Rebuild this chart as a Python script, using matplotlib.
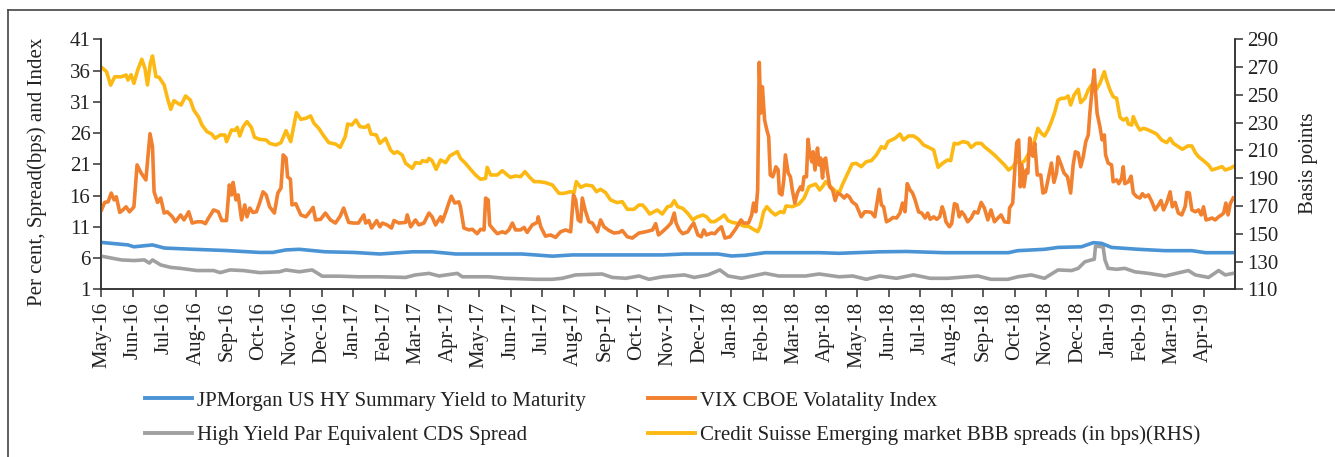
import matplotlib
matplotlib.use("Agg")
import matplotlib.pyplot as plt
from matplotlib.lines import Line2D

plt.rcParams['font.family'] = ['Liberation Serif', 'DejaVu Serif']

months = ["May-16", "Jun-16", "Jul-16", "Aug-16", "Sep-16", "Oct-16", "Nov-16", "Dec-16",
          "Jan-17", "Feb-17", "Mar-17", "Apr-17", "May-17", "Jun-17", "Jul-17", "Aug-17",
          "Sep-17", "Oct-17", "Nov-17", "Dec-17", "Jan-18", "Feb-18", "Mar-18", "Apr-18",
          "May-18", "Jun-18", "Jul-18", "Aug-18", "Sep-18", "Oct-18", "Nov-18", "Dec-18",
          "Jan-19", "Feb-19", "Mar-19", "Apr-19"]

# (time in months since May-16, value)
hy_yield = [(0, 8.5), (0.84, 8.1), (1.03, 7.8), (1.62, 8.1), (2.0, 7.6), (2.93, 7.4), (3.97, 7.2),
            (5.02, 6.9), (5.44, 6.9), (5.86, 7.3), (6.28, 7.4), (7.11, 7.0), (8.0, 6.9), (8.84, 6.65),
            (9.87, 7.0), (10.5, 7.0), (11.25, 6.65), (12.3, 6.65), (13.36, 6.65), (14.32, 6.3),
            (14.96, 6.5), (16.0, 6.5), (17.81, 6.5), (18.51, 6.65), (19.58, 6.65), (20.01, 6.33),
            (20.44, 6.44), (21.08, 6.86), (22.79, 6.86), (23.43, 6.76), (24.72, 7.0), (25.57, 7.05),
            (26.75, 6.86), (27.4, 6.86), (28.8, 6.86), (29.1, 7.18), (29.95, 7.4), (30.38, 7.7),
            (31.12, 7.8), (31.5, 8.46), (31.76, 8.35), (32.08, 7.7), (32.93, 7.4), (33.78, 7.18),
            (34.63, 7.18), (35.06, 6.86), (35.94, 6.86)]

cds_spread = [(0, 6.3), (0.31, 6.0), (0.63, 5.7), (1.03, 5.6), (1.36, 5.7), (1.52, 5.2), (1.62, 5.7),
              (1.88, 4.9), (2.2, 4.5), (2.51, 4.35), (3.03, 4.0), (3.56, 4.0), (3.77, 3.67), (4.08, 4.1),
              (4.5, 4.0), (5.02, 3.67), (5.65, 3.8), (5.86, 4.1), (6.28, 3.8), (6.69, 4.1), (7.01, 3.1),
              (7.53, 3.1), (8.16, 3.0), (8.84, 3.0), (9.66, 2.9), (9.97, 3.3), (10.4, 3.55), (10.72, 3.13),
              (11.3, 3.55), (11.46, 3.0), (12.3, 3.0), (12.83, 2.76), (13.79, 2.6), (14.32, 2.6),
              (14.63, 2.76), (15.06, 3.3), (15.9, 3.45), (16.22, 2.9), (16.65, 2.76), (17.07, 3.13),
              (17.39, 2.6), (17.81, 3.0), (18.51, 3.3), (18.83, 2.9), (19.26, 3.3), (19.64, 4.1),
              (19.9, 3.13), (20.33, 2.76), (21.08, 3.55), (21.51, 3.13), (22.36, 3.13), (22.79, 3.45),
              (23.43, 3.0), (23.86, 3.13), (24.29, 2.6), (24.72, 3.13), (25.25, 2.76), (25.79, 3.3),
              (26.32, 2.76), (26.87, 2.76), (27.83, 3.13), (28.25, 2.6), (28.79, 2.6), (29.1, 3.0),
              (29.53, 3.3), (29.95, 2.76), (30.38, 4.1), (30.81, 4.0), (31.02, 4.35), (31.23, 5.4),
              (31.44, 5.7), (31.53, 5.8), (31.57, 7.9), (31.81, 7.8), (31.87, 5.7), (31.97, 4.35),
              (32.24, 4.2), (32.5, 4.35), (32.82, 3.8), (33.25, 3.55), (33.78, 3.13), (34.52, 4.0),
              (34.74, 3.3), (35.16, 2.9), (35.48, 4.0), (35.69, 3.3), (35.94, 3.55)]

vix = [(0, 13.7), (0.1, 14.9), (0.21, 15.0), (0.31, 16.4), (0.4, 15.3), (0.47, 15.8), (0.58, 13.3),
       (0.68, 13.7), (0.78, 14.2), (0.89, 13.4), (1.03, 14.2), (1.13, 20.9), (1.26, 19.6), (1.41, 18.5),
       (1.46, 21.3), (1.54, 25.9), (1.62, 23.8), (1.67, 16.6), (1.78, 14.9), (1.88, 15.6), (1.99, 13.2),
       (2.09, 13.4), (2.25, 12.6), (2.35, 11.8), (2.51, 12.9), (2.62, 12.1), (2.77, 13.4), (2.88, 11.6),
       (3.03, 11.8), (3.19, 11.8), (3.3, 11.5), (3.4, 12.4), (3.56, 13.7), (3.71, 13.4), (3.82, 12.0),
       (3.97, 12.0), (4.06, 17.7), (4.13, 16.1), (4.18, 18.1), (4.27, 15.3), (4.34, 16.1), (4.45, 12.1),
       (4.55, 14.5), (4.62, 12.6), (4.71, 14.0), (4.81, 13.3), (4.92, 13.4), (5.02, 14.8), (5.13, 16.6),
       (5.23, 16.1), (5.34, 14.2), (5.49, 13.2), (5.6, 16.4), (5.7, 17.2), (5.77, 22.5), (5.86, 22.0),
       (5.91, 19.0), (6.0, 18.6), (6.05, 14.5), (6.17, 14.7), (6.33, 12.9), (6.49, 12.6), (6.59, 13.2),
       (6.72, 14.1), (6.8, 12.1), (6.96, 12.2), (7.11, 13.2), (7.27, 12.1), (7.43, 11.6), (7.58, 12.7),
       (7.69, 14.0), (7.85, 11.7), (8.0, 11.6), (8.16, 11.6), (8.33, 12.9), (8.39, 11.6), (8.49, 12.0),
       (8.58, 10.8), (8.74, 12.0), (8.84, 11.0), (8.92, 11.6), (9.07, 11.3), (9.21, 10.8), (9.29, 12.0),
       (9.44, 11.6), (9.66, 11.7), (9.71, 12.9), (9.82, 11.0), (9.97, 12.1), (10.08, 11.3), (10.24, 11.6),
       (10.4, 13.2), (10.5, 12.6), (10.61, 11.3), (10.77, 12.6), (10.82, 11.8), (10.93, 13.3),
       (11.03, 14.8), (11.11, 15.9), (11.22, 14.8), (11.35, 15.0), (11.4, 14.2), (11.51, 10.8),
       (11.67, 10.5), (11.78, 10.6), (11.93, 9.9), (12.04, 10.6), (12.15, 10.5), (12.2, 15.6),
       (12.28, 15.3), (12.33, 11.3), (12.46, 10.5), (12.57, 9.9), (12.73, 10.2), (12.83, 10.0),
       (12.94, 10.5), (13.05, 11.6), (13.15, 10.5), (13.31, 10.5), (13.42, 10.9), (13.52, 10.1),
       (13.68, 11.3), (13.84, 11.7), (13.87, 12.6), (13.95, 11.0), (14.1, 9.5), (14.26, 9.7),
       (14.42, 9.3), (14.58, 10.2), (14.74, 10.5), (14.9, 10.2), (14.99, 16.1), (15.06, 15.3),
       (15.14, 12.1), (15.22, 11.8), (15.27, 15.6), (15.36, 13.7), (15.48, 11.8), (15.59, 11.6),
       (15.75, 10.2), (15.85, 12.1), (15.96, 11.0), (16.12, 10.4), (16.28, 10.0), (16.44, 10.1),
       (16.54, 10.4), (16.7, 9.4), (16.86, 9.2), (17.07, 10.0), (17.28, 10.2), (17.5, 10.5),
       (17.6, 11.5), (17.69, 9.7), (17.81, 10.2), (17.98, 11.0), (18.09, 11.6), (18.19, 13.2),
       (18.25, 11.6), (18.35, 10.5), (18.46, 9.9), (18.62, 10.2), (18.73, 11.1), (18.81, 11.6),
       (18.94, 9.7), (19.05, 9.4), (19.13, 10.5), (19.21, 9.7), (19.37, 10.0), (19.48, 9.9),
       (19.58, 10.5), (19.69, 11.0), (19.8, 9.2), (19.96, 9.4), (20.12, 10.5), (20.22, 11.3),
       (20.31, 12.1), (20.39, 11.6), (20.55, 11.6), (20.65, 12.9), (20.71, 14.8), (20.78, 13.4),
       (20.84, 16.9), (20.89, 37.3), (20.94, 29.2), (20.99, 33.4), (21.06, 28.1), (21.13, 26.5),
       (21.19, 25.4), (21.24, 19.3), (21.32, 19.0), (21.42, 20.6), (21.49, 20.1), (21.53, 16.4),
       (21.61, 16.1), (21.67, 18.5), (21.72, 22.5), (21.81, 19.6), (21.88, 19.0), (21.94, 16.9),
       (22.02, 14.8), (22.1, 16.4), (22.2, 17.4), (22.26, 16.9), (22.31, 19.0), (22.39, 19.0),
       (22.44, 25.0), (22.49, 22.8), (22.56, 21.4), (22.6, 23.0), (22.66, 20.1), (22.74, 23.6),
       (22.79, 20.9), (22.84, 22.0), (22.9, 18.8), (22.95, 21.7), (23.0, 22.0), (23.06, 19.6),
       (23.13, 17.4), (23.22, 16.9), (23.3, 15.2), (23.38, 16.4), (23.49, 16.1), (23.59, 15.6),
       (23.67, 16.1), (23.75, 15.8), (23.84, 15.0), (23.97, 14.5), (24.13, 12.6), (24.24, 13.4),
       (24.34, 13.4), (24.45, 13.3), (24.56, 12.6), (24.63, 14.8), (24.7, 17.0), (24.77, 14.5),
       (24.84, 14.2), (24.93, 11.8), (25.04, 12.1), (25.14, 12.5), (25.25, 12.4), (25.36, 13.2),
       (25.44, 14.8), (25.52, 13.4), (25.59, 17.9), (25.68, 16.9), (25.76, 16.4), (25.84, 15.3),
       (25.95, 13.4), (26.05, 13.2), (26.16, 12.4), (26.24, 13.2), (26.32, 12.2), (26.43, 12.6),
       (26.53, 12.2), (26.62, 12.6), (26.7, 14.2), (26.76, 13.3), (26.82, 11.8), (26.93, 11.0),
       (27.0, 11.5), (27.09, 14.7), (27.17, 14.5), (27.24, 12.6), (27.32, 13.4), (27.4, 12.9),
       (27.51, 11.8), (27.62, 12.4), (27.72, 13.4), (27.83, 13.2), (27.94, 14.9), (28.04, 14.0),
       (28.15, 12.1), (28.25, 13.7), (28.36, 11.8), (28.47, 12.4), (28.57, 12.9), (28.68, 11.8),
       (28.81, 11.7), (28.84, 14.0), (28.94, 14.8), (29.02, 21.2), (29.07, 24.5), (29.13, 24.9),
       (29.18, 17.4), (29.23, 20.9), (29.3, 17.4), (29.37, 20.1), (29.42, 19.6), (29.48, 25.2),
       (29.53, 22.8), (29.58, 22.3), (29.64, 24.4), (29.72, 19.3), (29.83, 19.3), (29.9, 16.4),
       (29.98, 16.6), (30.06, 18.5), (30.17, 21.2), (30.25, 18.1), (30.33, 19.6), (30.38, 22.2),
       (30.46, 21.2), (30.57, 19.6), (30.68, 19.0), (30.78, 16.4), (30.86, 20.9), (30.93, 23.0),
       (31.02, 22.8), (31.1, 20.6), (31.18, 22.2), (31.26, 24.6), (31.34, 25.7), (31.39, 29.2),
       (31.46, 32.9), (31.53, 36.1), (31.57, 32.6), (31.62, 29.2), (31.71, 27.0), (31.78, 24.9),
       (31.85, 25.7), (31.89, 22.5), (31.97, 21.2), (32.08, 20.9), (32.13, 18.2), (32.24, 18.5),
       (32.31, 17.9), (32.4, 18.8), (32.45, 20.6), (32.5, 17.9), (32.61, 18.2), (32.7, 19.1),
       (32.77, 16.4), (32.88, 15.8), (32.98, 15.6), (33.06, 16.3), (33.14, 15.8), (33.25, 16.1),
       (33.36, 15.0), (33.46, 13.7), (33.57, 14.5), (33.65, 15.2), (33.73, 13.7), (33.83, 14.8),
       (33.94, 16.6), (34.01, 14.2), (34.1, 14.9), (34.2, 13.2), (34.31, 12.9), (34.42, 14.3),
       (34.47, 16.5), (34.55, 16.4), (34.63, 13.7), (34.74, 13.4), (34.84, 13.7), (34.93, 12.9),
       (35.0, 14.2), (35.08, 12.1), (35.16, 12.2), (35.27, 12.4), (35.37, 12.1), (35.48, 12.6),
       (35.57, 12.9), (35.64, 13.2), (35.71, 14.8), (35.78, 12.9), (35.85, 14.7), (35.94, 15.6)]

em_bbb_bps = [(0, 269.8), (0.16, 266.7), (0.29, 257), (0.42, 263), (0.63, 263), (0.78, 264.3),
              (0.84, 260.7), (0.94, 264.5), (1.03, 258.3), (1.15, 267.9), (1.28, 275.6), (1.38, 269.1),
              (1.46, 257.1), (1.55, 272.7), (1.62, 278), (1.73, 263.1), (1.83, 262.6), (1.99, 257.1),
              (2.11, 246.3), (2.2, 239.6), (2.3, 245.8), (2.46, 243.4), (2.53, 242.7), (2.67, 249.2),
              (2.82, 246.3), (2.93, 239.1), (3.09, 233.8), (3.19, 228.3), (3.35, 223.5), (3.5, 221.8),
              (3.61, 218.7), (3.77, 221.1), (3.92, 221.1), (3.97, 216.3), (4.13, 224.7), (4.24, 224.5),
              (4.31, 226.6), (4.39, 220.4), (4.5, 227.1), (4.62, 230.7), (4.76, 226.6), (4.86, 219.4),
              (5.02, 218), (5.23, 217.5), (5.34, 215.1), (5.54, 213.9), (5.7, 215.6), (5.86, 224.2),
              (6.01, 216.3), (6.19, 237.2), (6.33, 232.4), (6.49, 233.1), (6.64, 234.8), (6.75, 229.5),
              (6.9, 225.9), (7.06, 220.4), (7.22, 215.6), (7.43, 214.6), (7.58, 212.2), (7.74, 219.9),
              (7.82, 229), (7.95, 228.3), (8.08, 231.9), (8.21, 227.1), (8.37, 226.6), (8.47, 228.3),
              (8.56, 221.8), (8.73, 221.1), (8.84, 215.1), (9.02, 218.7), (9.18, 210.3), (9.29, 207.9),
              (9.39, 209.1), (9.55, 206.7), (9.66, 200.7), (9.87, 197.1), (9.97, 201.2), (10.13, 200.7),
              (10.19, 202.6), (10.34, 201.9), (10.4, 204.3), (10.5, 202.6), (10.63, 196.4),
              (10.77, 203.1), (10.93, 201.2), (11.06, 206), (11.25, 208.4), (11.3, 209.1), (11.4, 204.3),
              (11.56, 200.7), (11.72, 196.4), (11.88, 192.3), (12.04, 189.2), (12.2, 189.9),
              (12.25, 197.8), (12.36, 192.3), (12.57, 192.3), (12.73, 195.4), (12.89, 192.3),
              (12.99, 190.6), (13.15, 191.6), (13.31, 191.1), (13.45, 194.7), (13.58, 191.1),
              (13.74, 187.5), (13.89, 187.5), (14.1, 186.8), (14.32, 185.1), (14.53, 179.1),
              (14.69, 179.1), (14.9, 180.3), (15.01, 179.6), (15.08, 187.5), (15.22, 183.4),
              (15.38, 185.1), (15.59, 184.4), (15.72, 180.3), (15.85, 182), (16.01, 179.6),
              (16.17, 174.3), (16.38, 172.4), (16.54, 173.1), (16.7, 167.6), (16.91, 167.6),
              (17.07, 170.7), (17.18, 170.7), (17.28, 168.3), (17.41, 164.2), (17.55, 165.9),
              (17.65, 167.1), (17.81, 164.2), (17.98, 169.5), (18.09, 170), (18.19, 173.8), (18.3, 169.5),
              (18.46, 168.3), (18.62, 164.7), (18.78, 159.9), (18.89, 161.8), (19.1, 163.5),
              (19.21, 162.3), (19.35, 158.7), (19.47, 158.7), (19.64, 161.1), (19.78, 163.5),
              (19.9, 159.4), (20.06, 158), (20.22, 157.5), (20.39, 155.6), (20.57, 155.1), (20.7, 153.2),
              (20.84, 151.5), (20.92, 155.1), (21.03, 165.9), (21.13, 169.5), (21.27, 165.9),
              (21.4, 163.5), (21.56, 165.9), (21.67, 165.2), (21.74, 170), (21.94, 169.5), (22.15, 171.4),
              (22.31, 175.5), (22.47, 183.9), (22.68, 185.8), (22.81, 181.5), (22.9, 183.9), (23.0, 187.5),
              (23.16, 183.9), (23.3, 181), (23.43, 179.6), (23.54, 185.8), (23.7, 193.5), (23.84, 200.2),
              (23.97, 200.7), (24.13, 198.3), (24.29, 201.9), (24.45, 202.6), (24.61, 206.7),
              (24.77, 212.7), (24.88, 211.5), (24.98, 216.3), (25.2, 218.7), (25.36, 221.8),
              (25.47, 217.5), (25.63, 220.4), (25.79, 220.4), (25.95, 218), (26.11, 213.9),
              (26.27, 212.2), (26.43, 210.3), (26.57, 197.8), (26.71, 200.7), (26.87, 203.1),
              (26.97, 202.6), (27.08, 215.1), (27.19, 214.6), (27.35, 216.3), (27.51, 215.6),
              (27.62, 212.2), (27.78, 215.1), (27.94, 215.1), (28.04, 212.7), (28.2, 209.8),
              (28.36, 206.7), (28.52, 203.1), (28.68, 199.5), (28.81, 195.9), (28.95, 198.3),
              (29.05, 201.9), (29.21, 200.7), (29.32, 202.6), (29.42, 206.7), (29.53, 210.8),
              (29.64, 217.5), (29.74, 225.9), (29.85, 222.3), (29.95, 220.4), (30.06, 224.7),
              (30.17, 230.7), (30.27, 237.2), (30.38, 246.3), (30.49, 247.5), (30.59, 247.5),
              (30.7, 249.2), (30.78, 242.7), (30.89, 249.9), (31.02, 254), (31.1, 244.4), (31.23, 247.5),
              (31.34, 253.5), (31.44, 257.1), (31.6, 254), (31.71, 258.3), (31.85, 266.7), (31.92, 260.7),
              (32.03, 253.5), (32.13, 248.7), (32.24, 247.5), (32.35, 233.8), (32.45, 231.9),
              (32.56, 233.1), (32.61, 229), (32.72, 228.3), (32.77, 234.3), (32.88, 228.3),
              (32.98, 224.7), (33.09, 225.9), (33.2, 225.2), (33.36, 223.5), (33.51, 221.8),
              (33.67, 217.5), (33.83, 215.6), (33.94, 218.7), (34.04, 215.1), (34.2, 212.7),
              (34.33, 210.8), (34.5, 213.2), (34.63, 213.2), (34.74, 208.4), (34.84, 205.5),
              (35.0, 202.6), (35.16, 199.5), (35.27, 195.9), (35.43, 197.1), (35.59, 198.3),
              (35.69, 195.9), (35.85, 197.1), (35.94, 198.3)]

left_ticks = [1, 6, 11, 16, 21, 26, 31, 36, 41]
right_ticks = [110, 130, 150, 170, 190, 210, 230, 250, 270, 290]

C_BLUE = '#4a94d6'
C_ORANGE = '#f1802f'
C_GRAY = '#a0a0a0'
C_YELLOW = '#fdb913'
AX_COL = '#333333'
FS = 15
LW = 2.6

W, H = 1335, 457
fig = plt.figure(figsize=(W / 100, H / 100), dpi=100)
x0, x1, y0, y1 = 101.5, 1235, 39.3, 289.3
ax = fig.add_axes([x0 / W, 1 - y1 / H, (x1 - x0) / W, (y1 - y0) / H])
ax2 = ax.twinx()
ax.set_zorder(2)
ax2.set_zorder(1)
ax.patch.set_visible(False)


def xy(pairs):
    return [p[0] for p in pairs], [p[1] for p in pairs]


l_em, = ax2.plot(*xy(em_bbb_bps), color=C_YELLOW, lw=LW, solid_joinstyle='round',
                 label='Credit Suisse Emerging market BBB spreads (in bps)(RHS)')
l_cds, = ax.plot(*xy(cds_spread), color=C_GRAY, lw=LW, solid_joinstyle='round',
                 label='High Yield Par Equivalent CDS Spread')
l_hy, = ax.plot(*xy(hy_yield), color=C_BLUE, lw=LW, solid_joinstyle='round',
                label='JPMorgan US HY Summary Yield to Maturity')
l_vix, = ax.plot(*xy(vix), color=C_ORANGE, lw=LW, solid_joinstyle='round',
                 label='VIX CBOE Volatality Index')

ax.set_xlim(0, 36)
ax.set_ylim(1, 41)
ax2.set_ylim(110, 290)
ax.set_yticks(left_ticks)
ax2.set_yticks(right_ticks)
ax.set_xticks(range(len(months)))
ax.set_xticklabels(months, rotation=90, fontsize=FS, color='#222222')
ax.tick_params(axis='x', direction='out', length=6, width=1.1, color=AX_COL, pad=3)
ax.tick_params(axis='y', direction='out', length=6, width=1.1, color=AX_COL, pad=2,
               labelsize=FS, labelcolor='#222222')
ax2.tick_params(axis='y', direction='out', length=6, width=1.1, color=AX_COL, pad=3,
                labelsize=FS, labelcolor='#222222')

for a in (ax, ax2):
    a.spines['top'].set_visible(False)
    for s in ('left', 'right', 'bottom'):
        a.spines[s].set_color(AX_COL)
        a.spines[s].set_linewidth(1.1)

fig.text(37 / W, 1 - 172 / H, 'Per cent, Spread(bps) and Index', rotation=90,
         ha='center', va='center', fontsize=FS, color='#222222')
fig.text(1308 / W, 1 - 163 / H, 'Basis points', rotation=90,
         ha='center', va='center', fontsize=FS, color='#222222')

leg_kw = dict(frameon=False, fontsize=FS, handlelength=2.26, handletextpad=0.25,
              labelspacing=0.72, borderpad=0, borderaxespad=0, loc='upper left')
lg1 = fig.legend(handles=[l_hy, l_cds], bbox_to_anchor=(145 / W, 1 - 391 / H), **leg_kw)
lg2 = fig.legend(handles=[l_vix, l_em], bbox_to_anchor=(648 / W, 1 - 391 / H), **leg_kw)
for lg in (lg1, lg2):
    for t in lg.get_texts():
        t.set_color('#222222')
    for h in lg.legend_handles:
        h.set_linewidth(2.8)

# outer frame
fig.add_artist(Line2D([7.5 / W, 7.5 / W], [0, 1 - 10 / H], transform=fig.transFigure,
                      color='#444444', lw=1.2))
fig.add_artist(Line2D([7.5 / W, 1], [1 - 10 / H, 1 - 10 / H], transform=fig.transFigure,
                      color='#444444', lw=1.2))

fig.savefig('out.png', dpi=100)
